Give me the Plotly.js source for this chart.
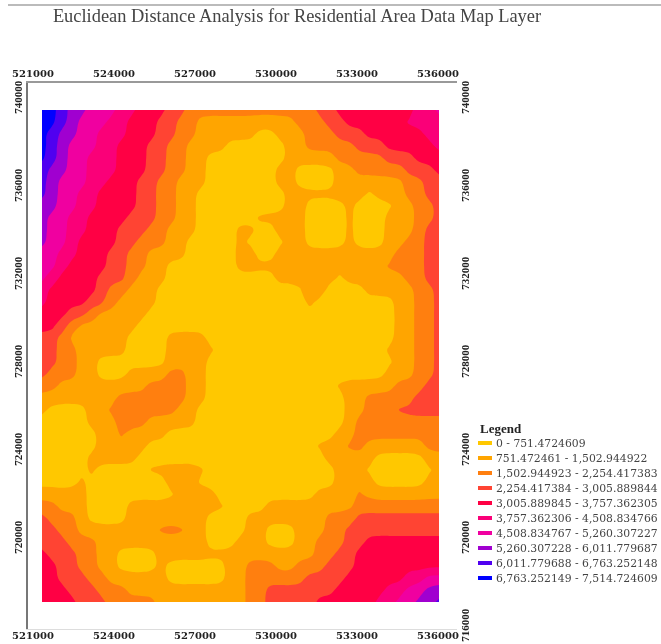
<!DOCTYPE html>
<html>
<head>
<meta charset="utf-8">
<script src="https://cdn.plot.ly/plotly-3.0.1.min.js"></script>
<style>html,body{margin:0;padding:0;background:#fff}#chart{width:661px;height:644px;filter:blur(0.5px)}</style>
</head>
<body>
<div id="chart"></div>
<script>
var titleText = "Euclidean Distance Analysis for Residential Area Data Map Layer";
var legendTitle = "Legend";
var classBreak = 751.4724609;
var classColors = ["#FFC800","#FFA500","#FF7F0F","#FF4433","#FF0044","#FA0078","#F000A0","#A000D0","#5000F0","#0000FF"];
var classLabels = [
  "0 - 751.4724609","751.472461 - 1,502.944922","1,502.944923 - 2,254.417383",
  "2,254.417384 - 3,005.889844","3,005.889845 - 3,757.362305","3,757.362306 - 4,508.834766",
  "4,508.834767 - 5,260.307227","5,260.307228 - 6,011.779687","6,011.779688 - 6,763.252148",
  "6,763.252149 - 7,514.724609"];
var eastTicks = [521000,524000,527000,530000,533000,536000];
var northTicksLeft = [740000,736000,732000,728000,724000,720000];
var northTicksRight = [740000,736000,732000,728000,724000,720000,716000];
var classRows = [
"99877666554443322222222222223344444444556",
"99876665544433221111111111222334444445555",
"98776655544433221111110011122233344444455",
"98766655444332211110000001122222333444445",
"98766555444332211000000001111122222333444",
"87766555444332211000000011000011222223334",
"87666554443322111000000011000011111112233",
"87665544443322110000000001111111101112233",
"77665544443322110000000001100001000011223",
"76655444433322110000001111100001000111223",
"76655444333221110000110011100001000111233",
"76654444332221100000100001100001000112233",
"66554443322111100000110011111111111122233",
"66544443322110000000111111111111111222233",
"65444433321110000000000011111101111112233",
"54444432211100000000000000021000011111223",
"54444332111100000000000000010000000011223",
"44433211111000000000000000000000000011223",
"44321111110000000000000000000000000011223",
"33211111100001111000000000000000000011223",
"33221111100001111100000100000000000111223",
"33221100000001111000000000000000000011223",
"32221100011112211000000000000000000111223",
"22111111111222211000000000000011111122233",
"11111111222222211000000000000001122222333",
"10000112222222110000000000000001122233333",
"00000111222111110000000000000001222222222",
"00000011211110000000000000000011222222222",
"00000011111000000000000000001112211111122",
"00000111110000000000000000000111110000011",
"00000100000111111000000000000011100000001",
"00001000000001110000000000000011110000011",
"11111000000000111100000000001111211111111",
"22111000011111111110000111111111222222222",
"32221000011111111000011111111222333333333",
"33221111111122211000011000111223333333333",
"33322211111111111000111000112223344444444",
"43332211000011111111111111112233444444444",
"44332211000010000001122211222333444444444",
"44333221111110000001122222233334444445566",
"44433322211111111111122333333344444556677",
"44443332222211111111122333334444445566778"
];
var eastStart = 521333, eastStep = 367.6, northStart = 739500, northStep = -545.45;
var classValues = classRows.map(function(r){return r.split("").map(function(c){return (Number(c)+0.5)*classBreak;});});

// Rounds the cell edges of the read grid for display only, like a raster resampling
function soften(m){
  var h=m.length,w=m[0].length,k=[1,4,1],o=[];
  for(var r=0;r<h;r++){var row=[];for(var c=0;c<w;c++){var s=0;
    for(var a=-1;a<=1;a++)for(var b=-1;b<=1;b++){
      var rr=Math.min(h-1,Math.max(0,r+a)),cc=Math.min(w-1,Math.max(0,c+b));
      s+=k[a+1]*k[b+1]*m[rr][cc];}
    row.push(s/36);}o.push(row);}
  return o;
}

var W = 661, H = 644, L = 28, R = 204, T = 83, B = 15;
var pw = W-L-R, ph = H-T-B;
function px(x){return (x-L)/pw;}
function py(y){return 1-(y-T)/ph;}

var scale = [];
classColors.forEach(function(c,i){scale.push([i/10,c]);scale.push([(i+1)/10,c]);});

var data = [{
  type:"contour", x0:eastStart, dx:eastStep, y0:northStart, dy:northStep, z:soften(classValues),
  autocontour:false, zmin:0, zmax:10*classBreak,
  contours:{start:classBreak,end:9*classBreak,size:classBreak,coloring:"fill",showlines:false},
  line:{width:0,smoothing:1.3}, colorscale:scale, showscale:false, hoverinfo:"skip"
},{
  type:"scatter", x:[null], y:[null], xaxis:"x2", yaxis:"y2", hoverinfo:"skip", showlegend:false
}];

var eastFont = {family:"DejaVu Serif",size:10,color:"#222",weight:700};
var northFont = {family:"Liberation Serif",size:11,color:"#222",weight:700};
var xr = [520815,536704], yr = [715910,740727];
var shapes = [{type:"line",xref:"paper",yref:"paper",x0:px(8),x1:px(661),y0:py(5),y1:py(5),line:{color:"#bbb",width:2}}];
var annotations = [{text:"<b>"+legendTitle+"</b>",xref:"paper",yref:"paper",x:px(478),y:py(428),xanchor:"left",yanchor:"middle",showarrow:false,font:{family:"Liberation Serif",size:13,color:"#222"}}];
classLabels.forEach(function(t,i){
  var yy = 443+i*15;
  shapes.push({type:"rect",xref:"paper",yref:"paper",x0:px(478),x1:px(492),y0:py(yy-2),y1:py(yy+2),fillcolor:classColors[i],line:{width:0}});
  annotations.push({text:t,xref:"paper",yref:"paper",x:px(494),y:py(yy),xanchor:"left",yanchor:"middle",showarrow:false,font:{family:"DejaVu Serif",size:10.8,color:"#444"}});
});

var layout = {
  width:W,height:H,margin:{l:L,r:R,t:T,b:B,pad:0},paper_bgcolor:"#fff",plot_bgcolor:"#fff",showlegend:false,
  title:{text:titleText,font:{family:"Liberation Serif",size:18.4,color:"#444"},x:297/W,xanchor:"center",y:1-16/H,yanchor:"middle"},
  xaxis:{range:xr,tickvals:eastTicks,ticktext:eastTicks.map(String),tickangle:0,showgrid:false,zeroline:false,ticks:"",side:"bottom",showline:true,linecolor:"#ddd",linewidth:1,tickfont:eastFont,anchor:"y",ticklabelstandoff:-3},
  xaxis2:{range:xr,tickvals:eastTicks,ticktext:eastTicks.map(String),tickangle:0,showgrid:false,zeroline:false,ticks:"",side:"top",overlaying:"x",showline:true,linecolor:"#999",linewidth:2,tickfont:eastFont,anchor:"y2"},
  yaxis:{range:yr,tickvals:northTicksLeft,ticktext:northTicksLeft.map(String),tickangle:-90,showgrid:false,zeroline:false,ticks:"",side:"left",showline:true,linecolor:"#777",linewidth:2,tickfont:northFont,anchor:"x"},
  yaxis2:{range:yr,tickvals:northTicksRight,ticktext:northTicksRight.map(String),tickangle:-90,showgrid:false,zeroline:false,ticks:"",side:"right",overlaying:"y",showline:false,tickfont:northFont,anchor:"x2"},
  shapes:shapes,annotations:annotations
};
Plotly.newPlot("chart",data,layout,{displayModeBar:false,staticPlot:true});
</script>
</body>
</html>
